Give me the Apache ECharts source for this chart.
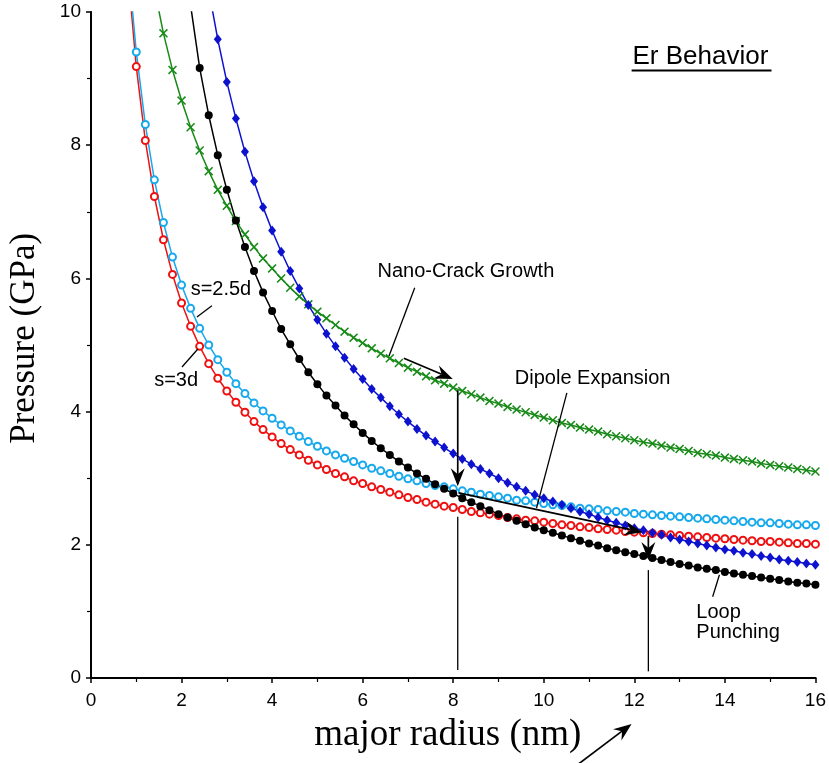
<!DOCTYPE html>
<html>
<head>
<meta charset="utf-8">
<script src="https://cdn.jsdelivr.net/npm/echarts@6/dist/echarts.min.js"></script>
<style>
  html, body { margin: 0; padding: 0; background: #fff; }
  #chart { width: 829px; height: 763px; }
</style>
</head>
<body>
<div id="chart"></div>
<script>
// major radius (nm), one point every 0.2 nm
const radius = [
  0.8, 1.0, 1.2, 1.4, 1.6, 1.8, 2.0, 2.2, 2.4, 2.6,
  2.8, 3.0, 3.2, 3.4, 3.6, 3.8, 4.0, 4.2, 4.4, 4.6,
  4.8, 5.0, 5.2, 5.4, 5.6, 5.8, 6.0, 6.2, 6.4, 6.6,
  6.8, 7.0, 7.2, 7.4, 7.6, 7.8, 8.0, 8.2, 8.4, 8.6,
  8.8, 9.0, 9.2, 9.4, 9.6, 9.8, 10.0, 10.2, 10.4, 10.6,
  10.8, 11.0, 11.2, 11.4, 11.6, 11.8, 12.0, 12.2, 12.4, 12.6,
  12.8, 13.0, 13.2, 13.4, 13.6, 13.8, 14.0, 14.2, 14.4, 14.6,
  14.8, 15.0, 15.2, 15.4, 15.6, 15.8, 16.0
];

// s=3d (red open circles)
const s3d = [
  10.72, 9.18, 8.07, 7.23, 6.58, 6.06, 5.63, 5.28, 4.98, 4.72,
  4.50, 4.31, 4.14, 3.99, 3.85, 3.73, 3.62, 3.52, 3.43, 3.35,
  3.27, 3.20, 3.13, 3.07, 3.02, 2.96, 2.92, 2.87, 2.83, 2.79,
  2.75, 2.71, 2.68, 2.64, 2.61, 2.58, 2.56, 2.53, 2.50, 2.48,
  2.46, 2.44, 2.41, 2.39, 2.37, 2.36, 2.34, 2.32, 2.30, 2.29,
  2.27, 2.26, 2.24, 2.23, 2.22, 2.20, 2.19, 2.18, 2.17, 2.16,
  2.15, 2.14, 2.13, 2.12, 2.11, 2.10, 2.09, 2.08, 2.07, 2.06,
  2.05, 2.05, 2.04, 2.03, 2.02, 2.02, 2.01
];

// s=2.5d (cyan open circles)
const s25d = [
  10.89, 9.40, 8.31, 7.48, 6.84, 6.32, 5.90, 5.55, 5.25, 5.00,
  4.78, 4.59, 4.42, 4.27, 4.13, 4.01, 3.90, 3.80, 3.71, 3.63,
  3.55, 3.48, 3.41, 3.35, 3.30, 3.25, 3.20, 3.15, 3.11, 3.07,
  3.03, 2.99, 2.96, 2.92, 2.89, 2.87, 2.84, 2.81, 2.79, 2.76,
  2.74, 2.72, 2.70, 2.67, 2.66, 2.64, 2.62, 2.60, 2.59, 2.57,
  2.55, 2.54, 2.53, 2.51, 2.50, 2.49, 2.47, 2.46, 2.45, 2.44,
  2.43, 2.42, 2.41, 2.40, 2.39, 2.38, 2.37, 2.36, 2.35, 2.34,
  2.33, 2.33, 2.32, 2.31, 2.30, 2.30, 2.29
];

// nano-crack growth (green crosses)
const nanoCrack = [
  null, null, null, 10.35, 9.68, 9.13, 8.67, 8.27, 7.92, 7.61,
  7.33, 7.09, 6.86, 6.66, 6.47, 6.30, 6.15, 6.00, 5.86, 5.73,
  5.61, 5.50, 5.40, 5.30, 5.20, 5.11, 5.03, 4.95, 4.87, 4.80,
  4.73, 4.66, 4.60, 4.53, 4.47, 4.42, 4.36, 4.31, 4.26, 4.21,
  4.16, 4.12, 4.07, 4.03, 3.99, 3.95, 3.91, 3.87, 3.83, 3.80,
  3.76, 3.73, 3.70, 3.66, 3.63, 3.60, 3.57, 3.54, 3.52, 3.49,
  3.46, 3.44, 3.41, 3.38, 3.36, 3.34, 3.31, 3.29, 3.27, 3.25,
  3.22, 3.20, 3.18, 3.16, 3.14, 3.12, 3.10
];

// loop punching (black dots)
const loopPunching = [
  null, null, null, null, null, null, 11.0, 10.1, 9.16, 8.45,
  7.85, 7.33, 6.87, 6.47, 6.11, 5.79, 5.51, 5.24, 5.01, 4.79,
  4.59, 4.41, 4.24, 4.09, 3.94, 3.81, 3.68, 3.56, 3.45, 3.35,
  3.25, 3.16, 3.07, 2.99, 2.91, 2.84, 2.77, 2.70, 2.64, 2.58,
  2.52, 2.46, 2.41, 2.36, 2.31, 2.26, 2.22, 2.18, 2.14, 2.10,
  2.06, 2.02, 1.99, 1.95, 1.92, 1.89, 1.86, 1.83, 1.80, 1.77,
  1.74, 1.71, 1.69, 1.66, 1.64, 1.62, 1.59, 1.57, 1.55, 1.53,
  1.51, 1.49, 1.47, 1.45, 1.43, 1.42, 1.40
];

// dipole expansion (blue diamonds)
const dipoleExpansion = [
  null, null, null, null, null, null, null, null, 11.19, 10.33,
  9.59, 8.95, 8.40, 7.90, 7.46, 7.07, 6.72, 6.40, 6.11, 5.85,
  5.60, 5.38, 5.17, 4.98, 4.81, 4.64, 4.49, 4.34, 4.21, 4.08,
  3.96, 3.85, 3.74, 3.64, 3.55, 3.46, 3.37, 3.29, 3.21, 3.14,
  3.07, 3.00, 2.93, 2.87, 2.81, 2.75, 2.70, 2.65, 2.60, 2.55,
  2.50, 2.46, 2.41, 2.37, 2.33, 2.29, 2.25, 2.22, 2.18, 2.15,
  2.11, 2.08, 2.05, 2.02, 1.99, 1.96, 1.93, 1.91, 1.88, 1.86,
  1.83, 1.81, 1.78, 1.76, 1.74, 1.72, 1.70
];

const xRange = [0, 16];
const yRange = [0, 10];

const SANS = '"Liberation Sans", Arial, Helvetica, sans-serif';
const SERIF = '"Liberation Serif", "Times New Roman", serif';

const pairs = ys => radius.map((x, i) => [x, ys[i]]).filter(p => p[1] != null);

const chart = echarts.init(document.getElementById('chart'));

const axisCommon = {
  type: 'value',
  splitLine: { show: false },
  axisLine: { show: true, lineStyle: { color: '#000', width: 2 } },
};

const crossPath = 'path://M0,1.2 L1.2,0 L5,3.8 L8.8,0 L10,1.2 L6.2,5 L10,8.8 L8.8,10 L5,6.2 L1.2,10 L0,8.8 L3.8,5 Z';

function lineSeries(name, ys, color, symbol, size, extra) {
  return Object.assign({
    name,
    type: 'line',
    data: pairs(ys),
    xAxisIndex: 0,
    yAxisIndex: 0,
    symbol,
    symbolSize: size,
    showAllSymbol: true,
    clip: true,
    silent: true,
    lineStyle: { color, width: 1.5 },
    itemStyle: { color, borderColor: color, borderWidth: 1.3 },
  }, extra || {});
}

chart.setOption({
  animation: false,
  backgroundColor: '#fff',
  grid: { left: 91, right: 13, top: 12, bottom: 85 },
  xAxis: [
    Object.assign({}, axisCommon, {
      position: 'bottom',
      min: xRange[0], max: xRange[1], interval: 2,
      axisTick: { show: true, length: 5, lineStyle: { color: '#000', width: 1.5 } },
      minorTick: { show: true, splitNumber: 2, length: 4, lineStyle: { color: '#000', width: 1.2 } },
      axisLabel: { color: '#000', fontSize: 19, fontFamily: SANS, margin: 13 },
    }),
    Object.assign({}, axisCommon, {
      position: 'top',
      min: xRange[0], max: xRange[1],
      axisTick: { show: false }, axisLabel: { show: false },
    }),
  ],
  yAxis: [
    Object.assign({}, axisCommon, {
      position: 'left',
      min: yRange[0], max: yRange[1], interval: 2,
      axisTick: { show: true, length: 5, lineStyle: { color: '#000', width: 1.5 } },
      minorTick: { show: true, splitNumber: 2, length: 4, lineStyle: { color: '#000', width: 1.2 } },
      axisLabel: { color: '#000', fontSize: 19, fontFamily: SANS, margin: 10 },
    }),
    Object.assign({}, axisCommon, {
      position: 'right',
      min: yRange[0], max: yRange[1],
      axisLine: { show: true, lineStyle: { color: '#000', width: 1 } },
      axisTick: { show: false }, axisLabel: { show: false },
    }),
  ],
  series: [
    lineSeries('s=3d', s3d, '#ee1111', 'emptyCircle', 7),
    lineSeries('s=2.5d', s25d, '#17a9ec', 'emptyCircle', 7),
    lineSeries('Nano-Crack Growth', nanoCrack, '#178a17', crossPath, 9, {
      itemStyle: { color: '#178a17', borderWidth: 0 },
    }),
    lineSeries('Dipole Expansion', dipoleExpansion, '#0d12cf', 'diamond', [8, 10], {
      itemStyle: { color: '#0d12cf', borderWidth: 0 },
    }),
    lineSeries('Loop Punching', loopPunching, '#000', 'circle', 8, {
      itemStyle: { color: '#000', borderWidth: 0 },
    }),
  ],
});

// annotations, anchored in data coordinates
const px = p => chart.convertToPixel({ gridIndex: 0 }, p);
const g = [];

function text(str, at, opts) {
  const p = px(at);
  g.push({
    type: 'text', x: p[0], y: p[1], silent: true, z: 100,
    style: Object.assign({
      text: str, font: '20px ' + SANS, fill: '#000',
      align: 'center', verticalAlign: 'middle',
    }, opts || {}),
  });
}
function seg(a, b, w) {
  const p = px(a), q = px(b);
  g.push({
    type: 'line', silent: true, z: 100,
    shape: { x1: p[0], y1: p[1], x2: q[0], y2: q[1] },
    style: { stroke: '#000', lineWidth: w || 1.3 },
  });
}
function arrow(a, b) {
  const p = px(a), q = px(b);
  const dx = q[0] - p[0], dy = q[1] - p[1];
  const len = Math.hypot(dx, dy);
  const ux = dx / len, uy = dy / len, nx = -uy, ny = ux;
  const L = 18, W = 7, N = 12;
  g.push({
    type: 'line', silent: true, z: 100,
    shape: { x1: p[0], y1: p[1], x2: q[0] - ux * N, y2: q[1] - uy * N },
    style: { stroke: '#000', lineWidth: 1.7 },
  });
  g.push({
    type: 'polygon', silent: true, z: 101,
    shape: { points: [
      [q[0], q[1]],
      [q[0] - ux * L + nx * W, q[1] - uy * L + ny * W],
      [q[0] - ux * N, q[1] - uy * N],
      [q[0] - ux * L - nx * W, q[1] - uy * L - ny * W],
    ] },
    style: { fill: '#000' },
  });
}

// title
text('Er Behavior', [13.46, 9.33], { font: '26px ' + SANS });
seg([11.94, 9.12], [15.03, 9.12], 2);

// s labels
text('s=2.5d', [2.87, 5.83]);
seg([2.67, 5.59], [2.34, 5.42]);
text('s=3d', [1.88, 4.46]);
seg([2.36, 4.94], [2.01, 4.67]);

// nano-crack growth
text('Nano-Crack Growth', [8.28, 6.11]);
seg([7.15, 5.86], [6.58, 4.83]);
arrow([6.91, 4.80], [7.99, 4.49]);
arrow([8.10, 4.32], [8.10, 2.88]);
seg([8.10, 2.42], [8.10, 0.12]);

// dipole expansion
text('Dipole Expansion', [11.08, 4.50]);
seg([10.51, 4.28], [9.84, 2.55]);
arrow([8.12, 2.78], [12.18, 2.19]);
arrow([12.31, 2.13], [12.31, 1.77]);
seg([12.31, 1.62], [12.31, 0.10]);

// loop punching
text('Loop\nPunching', [13.37, 0.84], { align: 'left', lineHeight: 20 });
seg([13.88, 1.55], [13.73, 1.22]);

// axis titles
const xt = px([7.88, 0]);
g.push({
  type: 'text', x: xt[0], y: 735, silent: true,
  style: { text: 'major radius (nm)', font: '37px ' + SERIF, fill: '#000', align: 'center', verticalAlign: 'middle' },
});
const yt = px([0, 5.1]);
g.push({
  type: 'text', x: 25, y: yt[1], rotation: Math.PI / 2, silent: true,
  style: { text: 'Pressure (GPa)', font: '35px ' + SERIF, fill: '#000', align: 'center', verticalAlign: 'middle' },
});

// arrow below the axis
arrow([10.73, -1.31], [11.94, -0.69]);

chart.setOption({ graphic: g });
</script>
</body>
</html>
